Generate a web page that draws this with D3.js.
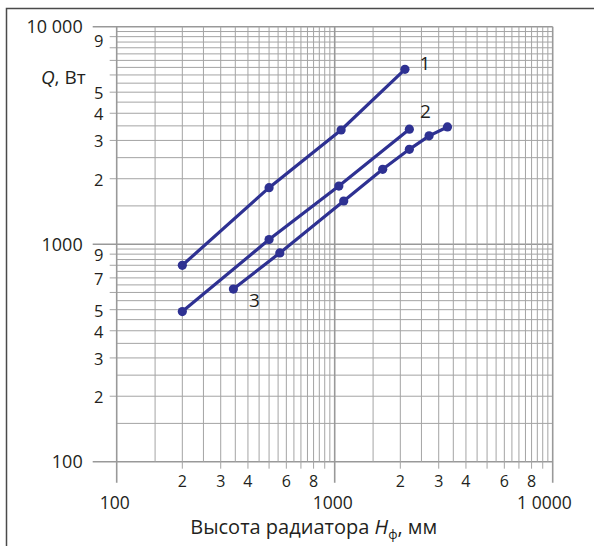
<!DOCTYPE html>
<html>
<head>
<meta charset="utf-8">
<script src="https://cdn.jsdelivr.net/npm/d3@7"></script>
<style>
  body { margin: 0; background: #fff; }
  svg { display: block; font-family: "Open Sans", "Noto Sans", sans-serif; }
  .grid line { stroke: #a4a4a4; stroke-width: 1; }
  .grid line.major { stroke: #999; stroke-width: 1.6; }
  .lbl { fill: #231f20; }
</style>
</head>
<body>
<div id="chart-area"></div>
<script>
// Data: heights of radiator H (mm) and heat output Q (W)
const series1H = [200, 500, 1070, 2100];
const series1Q = [800, 1820, 3350, 6370];
const series2H = [200, 500, 1045, 2200];
const series2Q = [490, 1050, 1850, 3380];
const series3H = [343, 560, 1100, 1660, 2200, 2710, 3290];
const series3Q = [622, 912, 1580, 2210, 2730, 3150, 3460];
const seriesNames = ["1", "2", "3"];

// Tick labels
const decades = [100, 1000, 10000];
const xMajorLabels = ["100", "1000", "1 0000"];
const yMajorLabels = ["100", "1000", "10 000"];
const xMinorDigits = [2, 3, 4, 6, 8];
const yMinorDigitsLow = [2, 3, 4, 5, 7, 9];
const yMinorDigitsHigh = [2, 3, 4, 5, 9];

const width = 594, height = 546;
const margin = { top: 26.7, right: 41.3, bottom: 84.3, left: 116.7 };

const svg = d3.select("#chart-area")
    .append("svg")
    .attr("width", width)
    .attr("height", height);

// outer frame (top and left edge)
svg.append("path")
    .attr("d", `M6.5,${height} V8.5 H${width}`)
    .attr("fill", "none")
    .attr("stroke", "#4a4a4a")
    .attr("stroke-width", 1.5);

const x = d3.scaleLog().domain([100, 10000]).range([margin.left, width - margin.right]);
const y = d3.scaleLog().domain([100, 10000]).range([height - margin.bottom, margin.top]);

// grid values: every half unit inside each decade
const gridVals = [];
[100, 1000].forEach(d => {
    for (let m = 1; m < 10; m += 0.5) gridVals.push(m * d);
});
gridVals.push(10000);

const isMajor = v => decades.includes(v);
const isInteger = (v) => {
    const d = Math.pow(10, Math.floor(Math.log10(v) + 1e-9));
    return Math.abs(v / d - Math.round(v / d)) < 1e-9;
};

const grid = svg.append("g").attr("class", "grid");
const [x0, x1] = x.range();
const [yb, yt] = y.range();

// horizontal lines
grid.selectAll(".h")
    .data(gridVals)
    .enter()
    .append("line")
    .attr("class", d => isMajor(d) ? "major" : "")
    .attr("x1", d => isMajor(d) ? x0 - 24 : (isInteger(d) ? x0 - 7 : x0))
    .attr("x2", x1)
    .attr("y1", d => y(d))
    .attr("y2", d => y(d));

// vertical lines
grid.selectAll(".v")
    .data(gridVals)
    .enter()
    .append("line")
    .attr("class", d => isMajor(d) ? "major" : "")
    .attr("x1", d => x(d))
    .attr("x2", d => x(d))
    .attr("y1", yt)
    .attr("y2", d => isMajor(d) ? yb + 21 : (isInteger(d) ? yb + 7 : yb));

// y axis labels
svg.selectAll(".ymaj")
    .data(decades)
    .enter()
    .append("text")
    .attr("class", "lbl")
    .attr("x", x0 - 34)
    .attr("y", d => y(d))
    .attr("dy", "0.36em")
    .attr("text-anchor", "end")
    .attr("font-size", 18)
    .text((d, i) => yMajorLabels[i]);

const yMinor = yMinorDigitsLow.map(m => m * 100).concat(yMinorDigitsHigh.map(m => m * 1000));
svg.selectAll(".ymin")
    .data(yMinor)
    .enter()
    .append("text")
    .attr("class", "lbl")
    .attr("x", x0 - 18)
    .attr("y", d => y(d) + (d === 9000 ? 4 : 1))
    .attr("dy", "0.36em")
    .attr("text-anchor", "middle")
    .attr("font-size", 16.5)
    .text(d => String(d).charAt(0));

// y title
const yTitle = svg.append("text")
    .attr("class", "lbl")
    .attr("x", x0 - 31)
    .attr("y", 77)
    .attr("dy", "0.36em")
    .attr("text-anchor", "end")
    .attr("font-size", 19);
yTitle.append("tspan").attr("font-style", "italic").text("Q");
yTitle.append("tspan").text(", Вт");

// x axis labels
const xMinor = [];
[100, 1000].forEach(d => xMinorDigits.forEach(m => xMinor.push(m * d)));
svg.selectAll(".xmin")
    .data(xMinor)
    .enter()
    .append("text")
    .attr("class", "lbl")
    .attr("x", d => x(d))
    .attr("y", yb + 19.5)
    .attr("dy", "0.36em")
    .attr("text-anchor", "middle")
    .attr("font-size", 16)
    .text(d => String(d).charAt(0));

svg.selectAll(".xmaj")
    .data(decades)
    .enter()
    .append("text")
    .attr("class", "lbl")
    .attr("x", d => d === 10000 ? x(d) + 19 : x(d) - 2)
    .attr("y", yb + 40.5)
    .attr("dy", "0.36em")
    .attr("text-anchor", d => d === 10000 ? "end" : "middle")
    .attr("font-size", 17.5)
    .text((d, i) => xMajorLabels[i]);

// x title
const xTitle = svg.append("text")
    .attr("class", "lbl")
    .attr("x", x(1000) - 21)
    .attr("y", yb + 65)
    .attr("dy", "0.36em")
    .attr("text-anchor", "middle")
    .attr("font-size", 20);
xTitle.append("tspan").text("Высота радиатора ");
xTitle.append("tspan").attr("font-style", "italic").text("H");
xTitle.append("tspan").attr("font-size", 13).attr("dy", "0.4em").text("ф");
xTitle.append("tspan").attr("dy", "-0.26em").text(", мм");

// series
const series = [
    { name: seriesNames[0], pts: series1H.map((h, i) => ({ h, q: series1Q[i] })), lab: { at: "last", dx: 20, dy: -6 } },
    { name: seriesNames[1], pts: series2H.map((h, i) => ({ h, q: series2Q[i] })), lab: { at: "last", dx: 16, dy: -18 } },
    { name: seriesNames[2], pts: series3H.map((h, i) => ({ h, q: series3Q[i] })), lab: { at: "first", dx: 21, dy: 11 } }
];

const line = d3.line().x(d => x(d.h)).y(d => y(d.q));
const color = "#2e3192";

series.forEach(s => {
    svg.append("path")
        .datum(s.pts)
        .attr("d", line)
        .attr("fill", "none")
        .attr("stroke", color)
        .attr("stroke-width", 3.2);

    svg.selectAll(null)
        .data(s.pts)
        .enter()
        .append("circle")
        .attr("cx", d => x(d.h))
        .attr("cy", d => y(d.q))
        .attr("r", 4.6)
        .attr("fill", color);

    const p = s.lab.at === "last" ? s.pts[s.pts.length - 1] : s.pts[0];
    svg.append("text")
        .attr("class", "lbl")
        .attr("x", x(p.h) + s.lab.dx)
        .attr("y", y(p.q) + s.lab.dy)
        .attr("dy", "0.36em")
        .attr("text-anchor", "middle")
        .attr("font-size", 19)
        .text(s.name);
});
</script>
</body>
</html>
